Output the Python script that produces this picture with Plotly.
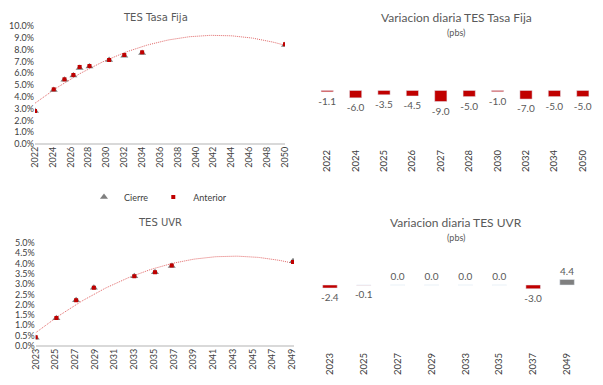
import numpy as np
import plotly.graph_objects as go

# ---- data: TES Tasa Fija ----
tf_x = [2022.0, 2024.1, 2025.3, 2026.3, 2027.0, 2028.1, 2030.3, 2032.0, 2034.0, 2050.0]
tf_anterior = [2.80, 4.63, 5.48, 5.85, 6.53, 6.61, 7.12, 7.54, 7.77, 8.45]
tf_var = [-1.1, -6.0, -3.5, -4.5, -9.0, -5.0, -1.0, -7.0, -5.0, -5.0]
tf_cats = ["2022", "2024", "2025", "2026", "2027", "2028", "2030", "2032", "2034", "2050"]
tf_cierre = [a + v / 100 for a, v in zip(tf_anterior, tf_var)]

# ---- data: TES UVR ----
uvr_x = [2023.0, 2025.1, 2027.1, 2028.9, 2033.0, 2035.1, 2036.8, 2049.1]
uvr_anterior = [0.42, 1.35, 2.22, 2.82, 3.38, 3.57, 3.90, 4.06]
uvr_var = [-2.4, -0.1, 0.0, 0.0, 0.0, 0.0, -3.0, 4.4]
uvr_cats = ["2023", "2025", "2027", "2029", "2033", "2035", "2037", "2049"]
uvr_cierre = [a + v / 100 for a, v in zip(uvr_anterior, uvr_var)]

RED = "#C00000"
GRAY = "#7F7F7F"
TXT = "#595959"
LFONT = "Lato"
TREND = "#E06666"

def trend(xs, ys, x0, x1):
    c = np.polyfit(xs, ys, 2)
    xx = np.linspace(x0, x1, 120)
    return xx, np.polyval(c, xx)

fig = go.Figure()

# top-left scatter
tx, ty = trend(tf_x, tf_anterior, 2022, 2050)
fig.add_trace(go.Scatter(x=tx, y=ty, mode="lines", line=dict(color=TREND, width=1, dash="1px,1px"),
                         showlegend=False, hoverinfo="skip", xaxis="x", yaxis="y"))
fig.add_trace(go.Scatter(x=tf_x, y=tf_cierre, mode="markers", name="Cierre",
                         marker=dict(symbol="triangle-up", color=GRAY, size=7), xaxis="x", yaxis="y"))
fig.add_trace(go.Scatter(x=tf_x, y=tf_anterior, mode="markers", name="Anterior",
                         marker=dict(symbol="square", color=RED, size=4), xaxis="x", yaxis="y"))

# top-right bars
fig.add_trace(go.Bar(x=tf_cats, y=tf_var, marker_color=[RED if v < 0 else GRAY for v in tf_var],
                     text=[f"{v:.1f}" for v in tf_var], textposition="outside", constraintext="none",
                     textfont=dict(color=TXT, size=10, family=LFONT), cliponaxis=False,
                     width=0.43, showlegend=False, xaxis="x2", yaxis="y2"))

# bottom-left scatter
ux, uy = trend(uvr_x, uvr_anterior, 2023, 2049)
fig.add_trace(go.Scatter(x=ux, y=uy, mode="lines", line=dict(color=TREND, width=1, dash="1px,1px"),
                         showlegend=False, hoverinfo="skip", xaxis="x3", yaxis="y3"))
fig.add_trace(go.Scatter(x=uvr_x, y=uvr_cierre, mode="markers", name="Cierre", showlegend=False,
                         marker=dict(symbol="triangle-up", color=GRAY, size=7), xaxis="x3", yaxis="y3"))
fig.add_trace(go.Scatter(x=uvr_x, y=uvr_anterior, mode="markers", name="Anterior", showlegend=False,
                         marker=dict(symbol="square", color=RED, size=4), xaxis="x3", yaxis="y3"))

# bottom-right bars
fig.add_trace(go.Bar(x=uvr_cats, y=uvr_var, marker_color=[RED if v < 0 else GRAY for v in uvr_var],
                     text=[f"{v:.1f}" for v in uvr_var], textposition="outside", constraintext="none",
                     textfont=dict(color=TXT, size=10, family=LFONT), cliponaxis=False,
                     width=0.43, showlegend=False, xaxis="x4", yaxis="y4"))

W, H = 603, 385
def px(x): return x / W
def py(y): return (H - y) / H

tickfont = dict(family=LFONT, size=9, color="#404040")
catfont = dict(family=LFONT, size=9.5, color="#404040")
common = dict(automargin=False, showgrid=False)
fig.update_layout(
    width=W, height=H, margin=dict(l=0, r=0, t=0, b=0),
    paper_bgcolor="white", plot_bgcolor="white",
    xaxis=dict(domain=[px(35), px(285)], range=[2022, 2050], tick0=2022, dtick=2,
               tickangle=-90, tickfont=tickfont, zeroline=False, showline=False, ticks="", **common),
    yaxis=dict(domain=[py(144), py(26)], range=[0, 10], tick0=0, dtick=1,
               tickformat=".1f", ticksuffix="%", tickfont=tickfont,
               zeroline=True, zerolinecolor="#D9D9D9", zerolinewidth=1.5, anchor="x", **common),
    xaxis2=dict(domain=[px(313), px(597)], tickangle=-90, tickfont=catfont,
                showline=False, ticks="", anchor="y2", type="category", **common),
    yaxis2=dict(domain=[py(147), py(45)], range=[-46, 37], visible=False,
                zeroline=True, zerolinecolor="#D9D9D9", zerolinewidth=1.5, anchor="x2", **common),
    xaxis3=dict(domain=[px(35.7), px(294)], range=[2023, 2049.2], tick0=2023, dtick=2,
                tickangle=-90, tickfont=tickfont, zeroline=False,
                showline=False, ticks="", anchor="y3", **common),
    yaxis3=dict(domain=[py(346), py(242.7)], range=[0, 5], tick0=0, dtick=0.5,
                tickformat=".1f", ticksuffix="%", tickfont=tickfont,
                zeroline=True, zerolinecolor="#D9D9D9", zerolinewidth=1.5, anchor="x3", **common),
    xaxis4=dict(domain=[px(313), px(584)], tickangle=-90, tickfont=catfont,
                showline=False, ticks="", anchor="y4", type="category", **common),
    yaxis4=dict(domain=[py(350), py(245)], range=[-52, 32], visible=False,
                zeroline=True, zerolinecolor="#D9D9D9", zerolinewidth=1.5, anchor="x4", **common),
    legend=dict(orientation="h", x=px(84), xanchor="left", y=py(197), yanchor="middle",
                font=dict(family=LFONT, size=9, color="#404040"), itemwidth=30),
)

ann = [
    ("TES Tasa Fija", 155, 17, 10, "DejaVu Sans"),
    ("Variacion diaria TES Tasa Fija", 456, 17, 12, LFONT),
    ("(pbs)", 456, 32, 9, LFONT),
    ("TES UVR", 160, 222, 10, "DejaVu Sans"),
    ("Variacion diaria TES UVR", 456, 222, 12, LFONT),
    ("(pbs)", 456, 237, 9, LFONT),
]
for t, x, y, s, f in ann:
    fig.add_annotation(text=t, x=px(x), y=py(y), xref="paper", yref="paper", showarrow=False,
                       xanchor="center", yanchor="middle", font=dict(family=f, size=s, color=TXT))

fig.write_html("out.html", config={"displayModeBar": False},
               post_script="document.body.style.margin='0';document.body.style.overflow='hidden';")
